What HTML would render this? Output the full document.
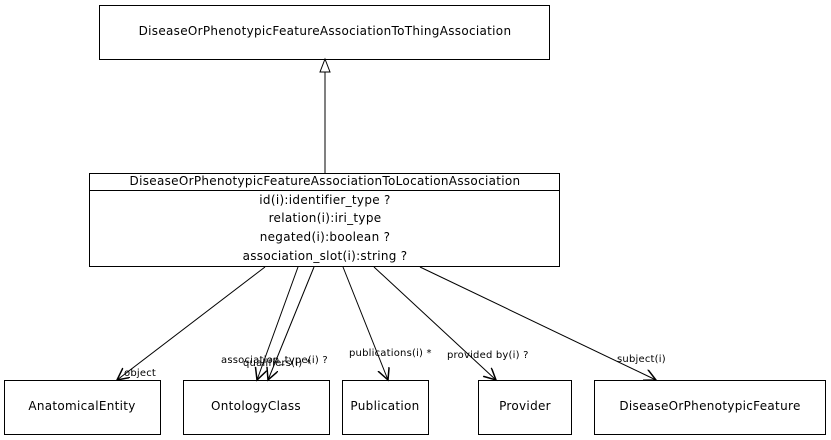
<!DOCTYPE html>
<html><head><meta charset="utf-8"><style>
html,body{margin:0;padding:0;background:#fff;}
svg{display:block;font-family:"DejaVu Sans","Liberation Sans",sans-serif;}
</style></head><body>
<svg width="831" height="440" viewBox="0 0 831 440" xmlns="http://www.w3.org/2000/svg">
<defs>
<marker id="a" markerWidth="14" markerHeight="14" refX="12" refY="6" orient="auto" markerUnits="userSpaceOnUse">
<path d="M0,0 L12,6 L0,12" fill="none" stroke="#000" stroke-width="1.5"/>
</marker>
</defs>
<g fill="#fff" stroke="#000" stroke-width="1">
<rect x="99.5" y="5.5" width="450" height="54"/>
<rect x="89.5" y="173.5" width="470" height="93"/>
<line x1="89.5" y1="190.5" x2="559.5" y2="190.5"/>
<rect x="4.5" y="380.5" width="156" height="54"/>
<rect x="183.5" y="380.5" width="146" height="54"/>
<rect x="342.5" y="380.5" width="86" height="54"/>
<rect x="478.5" y="380.5" width="93" height="54"/>
<rect x="594.5" y="380.5" width="231" height="54"/>
</g>
<g stroke="#000" stroke-width="1" fill="none">
<line x1="325" y1="173" x2="325" y2="72"/>
<path d="M325,59 L330,72 L320,72 Z" fill="#fff"/>
<line x1="265" y1="267" x2="117" y2="380" marker-end="url(#a)"/>
<line x1="298" y1="267" x2="257" y2="380" marker-end="url(#a)"/>
<line x1="314" y1="267" x2="268" y2="380" marker-end="url(#a)"/>
<line x1="343" y1="267" x2="388" y2="380" marker-end="url(#a)"/>
<line x1="374" y1="267" x2="496" y2="380" marker-end="url(#a)"/>
<line x1="420" y1="267" x2="656" y2="380" marker-end="url(#a)"/>
</g>
<g font-size="12" text-anchor="middle" fill="#000" letter-spacing="0.3">
<text x="325" y="35">DiseaseOrPhenotypicFeatureAssociationToThingAssociation</text>
<text x="325" y="185">DiseaseOrPhenotypicFeatureAssociationToLocationAssociation</text>
<text x="325" y="204">id(i):identifier_type ?</text>
<text x="325" y="222">relation(i):iri_type</text>
<text x="325" y="241">negated(i):boolean ?</text>
<text x="325" y="260">association_slot(i):string ?</text>
<text x="82" y="410">AnatomicalEntity</text>
<text x="256" y="410">OntologyClass</text>
<text x="385" y="410">Publication</text>
<text x="525" y="410">Provider</text>
<text x="710" y="410">DiseaseOrPhenotypicFeature</text>
</g>
<g font-size="10" fill="#000" letter-spacing="0.2">
<text x="124" y="376">object</text>
<text x="221" y="363">association_type(i) ?</text>
<text x="243" y="366">qualifiers(i) *</text>
<text x="349" y="356">publications(i) *</text>
<text x="447" y="358">provided by(i) ?</text>
<text x="617" y="362">subject(i)</text>
</g>
</svg>
</body></html>
